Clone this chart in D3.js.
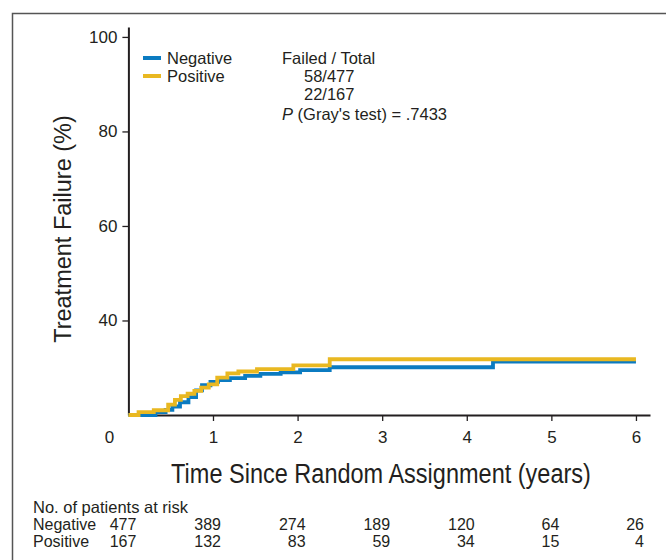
<!DOCTYPE html>
<html>
<head>
<meta charset="utf-8">
<script src="https://cdn.jsdelivr.net/npm/d3@7"></script>
<style>
  body { margin: 0; background: #fff; }
  svg text { font-family: "Liberation Sans", Arial, sans-serif; fill: #231f20; }
</style>
</head>
<body>
<script>
// Chart data
const groups = ["Negative", "Positive"];
const groupColors = ["#0b7bc1", "#e9b821"];

// cumulative incidence of treatment failure (%) by year, step after
const negTimes = [0, 0.32, 0.44, 0.52, 0.61, 0.71, 0.80, 0.87, 0.97, 1.06, 1.20, 1.38, 1.56, 1.80, 2.03, 2.38, 4.31, 6.0];
const negValues = [0, 0.6, 1.1, 1.8, 2.7, 3.8, 5.2, 6.3, 7.0, 7.4, 7.8, 8.3, 8.7, 9.0, 9.5, 10.1, 11.3, 11.3];
const posTimes = [0, 0.12, 0.30, 0.47, 0.55, 0.62, 0.70, 0.78, 0.86, 0.95, 1.05, 1.17, 1.30, 1.52, 1.95, 2.38, 6.0];
const posValues = [0, 0.6, 1.0, 2.2, 3.2, 4.0, 4.5, 5.1, 5.8, 6.5, 7.9, 8.8, 9.2, 9.7, 10.5, 11.8, 11.8];

const xTicks = [1, 2, 3, 4, 5, 6];
const yTickVals = [20, 40, 60, 80];
const yTickLabels = ["40", "60", "80", "100"];

const riskTimes = [0, 1, 2, 3, 4, 5, 6];
const negAtRisk = [477, 389, 274, 189, 120, 64, 26];
const posAtRisk = [167, 132, 83, 59, 34, 15, 4];

const failedTotal = ["58/477", "22/167"];
const grayP = ".7433";

window.onload = function(){
	let w = 666, h = 560;

	let svg = d3.select("body")
		.append("svg")
		.attr("width", w)
		.attr("height", h);

	//frame (top + left edges)
	svg.append("path")
		.attr("d", "M12.5,560 V13.5 H666")
		.attr("fill", "none")
		.attr("stroke", "#555")
		.attr("stroke-width", 1.5);

	//scales
	let x = d3.scaleLinear()
		.domain([0, 6.166])
		.range([128.4, 650]);

	let y = d3.scaleLinear()
		.domain([0, 82.1])
		.range([415, 27]);

	//y axis
	let yAxis = svg.append("g")
		.attr("transform", "translate(" + x(0) + ",0)")
		.call(d3.axisLeft(y)
			.tickValues(yTickVals)
			.tickFormat(function(d, i){ return yTickLabels[i]; })
			.tickSize(6)
			.tickSizeOuter(0)
			.tickPadding(5));

	//x axis
	let xAxis = svg.append("g")
		.attr("transform", "translate(0," + y(0) + ")")
		.call(d3.axisBottom(x)
			.tickValues(xTicks)
			.tickFormat(d3.format("d"))
			.tickSize(6)
			.tickSizeOuter(0)
			.tickPadding(10));

	[yAxis, xAxis].forEach(function(a){
		a.select(".domain").attr("stroke", "#231f20").attr("stroke-width", 2);
		a.selectAll(".tick line").attr("stroke", "#231f20").attr("stroke-width", 1.3);
		a.selectAll(".tick text")
			.attr("font-family", "Liberation Sans, Arial, sans-serif")
			.attr("font-size", 17)
			.attr("fill", "#231f20");
	});

	//origin label "0"
	svg.append("text")
		.attr("x", x(0) - 19)
		.attr("y", y(0) + 28)
		.attr("text-anchor", "middle")
		.attr("font-size", 17)
		.text("0");

	//axis titles
	svg.append("text")
		.attr("transform", "translate(71,229) rotate(-90)")
		.attr("text-anchor", "middle")
		.attr("font-size", 23.5)
		.text("Treatment Failure (%)");

	//condensed look for the x title
	svg.append("g")
		.attr("transform", "translate(381,483) scale(0.84,1)")
		.append("text")
		.attr("text-anchor", "middle")
		.attr("font-size", 28)
		.text("Time Since Random Assignment (years)");

	//curves
	let line = d3.line()
		.x(function(d){ return x(d[0]); })
		.y(function(d){ return y(d[1]); })
		.curve(d3.curveStepAfter);

	let series = [
		d3.zip(negTimes, negValues),
		d3.zip(posTimes, posValues)
	];

	svg.selectAll(".curve")
		.data(series)
		.enter()
		.append("path")
		.attr("class", "curve")
		.attr("d", line)
		.attr("fill", "none")
		.attr("stroke", function(d, i){ return groupColors[i]; })
		.attr("stroke-width", 3.8)
		.attr("stroke-linejoin", "miter");

	//legend
	let legend = svg.selectAll(".legend")
		.data(groups)
		.enter()
		.append("g")
		.attr("class", "legend")
		.attr("transform", function(d, i){ return "translate(143," + (58 + i * 18) + ")"; });

	legend.append("line")
		.attr("x1", 0).attr("x2", 18)
		.attr("stroke", function(d, i){ return groupColors[i]; })
		.attr("stroke-width", 4);

	legend.append("text")
		.attr("x", 24)
		.attr("y", 5.5)
		.attr("font-size", 16.5)
		.text(function(d){ return d; });

	//failed / total block
	svg.append("text")
		.attr("x", 282).attr("y", 64)
		.attr("font-size", 16.5)
		.text("Failed / Total");

	svg.selectAll(".ft")
		.data(failedTotal)
		.enter()
		.append("text")
		.attr("class", "ft")
		.attr("x", 304)
		.attr("y", function(d, i){ return 82 + i * 18; })
		.attr("font-size", 16.5)
		.text(function(d){ return d; });

	let pText = svg.append("text")
		.attr("x", 282).attr("y", 120)
		.attr("font-size", 16.5);
	pText.append("tspan").attr("font-style", "italic").text("P");
	pText.append("tspan").text(" (Gray's test) = " + grayP);

	//risk table
	svg.append("text")
		.attr("x", 33).attr("y", 513)
		.attr("font-size", 16.5)
		.text("No. of patients at risk");

	let rows = [negAtRisk, posAtRisk];
	rows.forEach(function(row, r){
		let ry = 530 + r * 17;
		svg.append("text")
			.attr("x", 33).attr("y", ry)
			.attr("font-size", 16)
			.text(groups[r]);
		svg.selectAll(".risk" + r)
			.data(row)
			.enter()
			.append("text")
			.attr("class", "risk" + r)
			.attr("text-anchor", "end")
			.attr("x", function(d, i){ return x(riskTimes[i]) + 8; })
			.attr("y", ry)
			.attr("font-size", 16)
			.text(function(d){ return d; });
	});
};
</script>
</body>
</html>
